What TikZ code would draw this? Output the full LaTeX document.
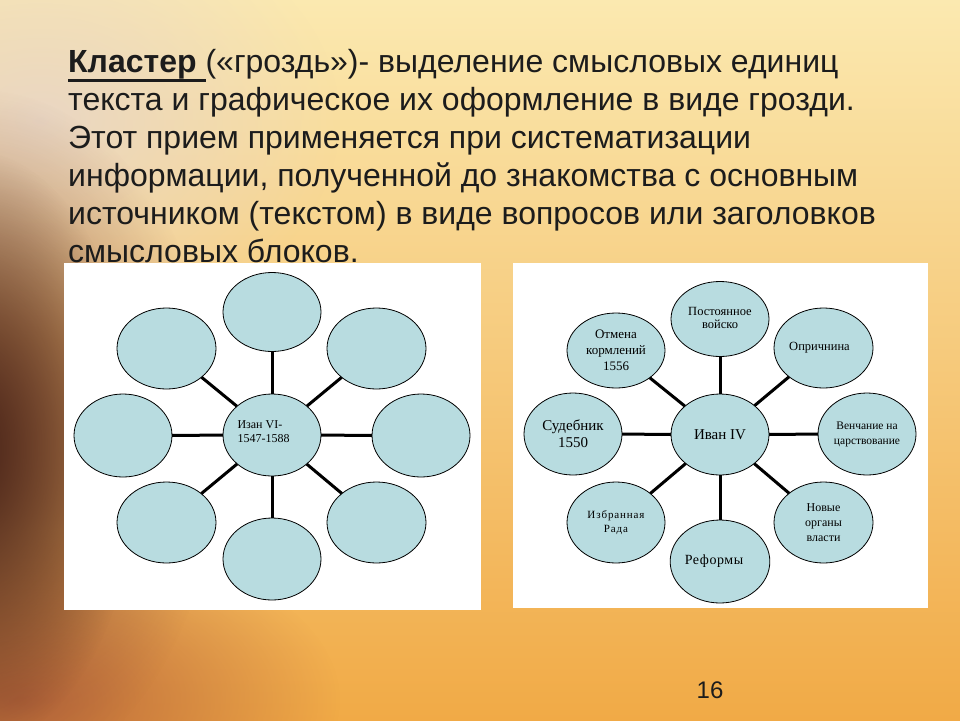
\documentclass[tikz,border=0pt]{standalone}
\usepackage{fontspec}
\setmainfont{Liberation Sans}
\newfontfamily\serifru{Liberation Serif}
\usetikzlibrary{shapes.geometric,fadings}

\definecolor{bubfill}{RGB}{184,220,224}
\definecolor{txt}{RGB}{28,28,28}
\definecolor{bgtop}{RGB}{251,233,176}
\definecolor{bgbot}{RGB}{241,170,70}
\definecolor{darkbrown}{RGB}{72,36,24}
\definecolor{midbrown}{RGB}{140,80,55}
\definecolor{redbrown}{RGB}{175,90,55}
\definecolor{paleleft}{RGB}{232,214,200}

\newcommand\thickul[1]{\leavevmode\vtop{\hbox{#1}\kern0.8pt\hrule height 2.4pt}}

\tikzfading[name=radfade, inner color=transparent!0, outer color=transparent!100]

\tikzset{
  bub/.style={ellipse, draw=black, line width=0.8pt, fill=bubfill, inner sep=0pt, outer sep=0pt,
    align=center, text=black, font=\serifru\fontsize{13}{15}\selectfont},
  conn/.style={line width=3pt, black},
  ttl/.style={anchor=base west, inner sep=0pt, text=txt, font=\fontsize{32}{38}\selectfont},
  panel/.style={fill=white}
}

\begin{document}
\begin{tikzpicture}[x=1pt,y=-1pt]
\useasboundingbox (0,0) rectangle (960,720);
% background
\shade[top color=bgtop, bottom color=bgbot] (0,0) rectangle (960,720);
\fill[paleleft, path fading=radfade, opacity=0.9] (40,120) ellipse [x radius=300, y radius=220];
\fill[redbrown, path fading=radfade, opacity=0.85] (20,700) ellipse [x radius=320, y radius=170];
\fill[midbrown, path fading=radfade, opacity=0.9] (-20,440) ellipse [x radius=240, y radius=350];
\fill[darkbrown, path fading=radfade, opacity=1] (-30,450) ellipse [x radius=170, y radius=300];

% title text
\node[ttl] (t1) at (68,72) {\thickul{\textbf{Кластер}\ }(«гроздь»)- выделение смысловых единиц};
\node[ttl] (t2) at (68,110) {текста и графическое их оформление в виде грозди.};
\node[ttl] (t3) at (68,148) {Этот прием применяется при систематизации};
\node[ttl] (t4) at (68,186) {информации, полученной до знакомства с основным};
\node[ttl] (t5) at (68,224) {источником (текстом) в виде вопросов или заголовков};
\node[ttl] (t6) at (68,262) {смысловых блоков.};

% panels
\fill[panel] (64,263) rectangle (481,610);
\fill[panel] (513,263) rectangle (928,608);

% left cluster
\node[bub, minimum width=98pt, minimum height=82pt] (L0) at (272,435) {};
\node[anchor=center, inner sep=0pt, align=left, font=\serifru\fontsize{12}{14}\selectfont] (L0t) at (263.5,432) {Изан VI-\\1547-1588};
\node[bub, minimum width=98pt, minimum height=79pt] (L1) at (272,312) {};
\node[bub, minimum width=99pt, minimum height=81pt] (L2) at (166.5,348.5) {};
\node[bub, minimum width=99pt, minimum height=81pt] (L3) at (376.5,348.5) {};
\node[bub, minimum width=98pt, minimum height=83pt] (L4) at (123,435.5) {};
\node[bub, minimum width=98pt, minimum height=83pt] (L5) at (421,435.5) {};
\node[bub, minimum width=99pt, minimum height=81pt] (L6) at (166.5,522.5) {};
\node[bub, minimum width=99pt, minimum height=81pt] (L7) at (376.5,522.5) {};
\node[bub, minimum width=98pt, minimum height=82pt] (L8) at (272,559) {};
\foreach \i in {1,...,8} \draw[conn] (L0) -- (L\i);

% right cluster
\node[bub, minimum width=98pt, minimum height=81pt, font=\serifru\fontsize{15}{17}\selectfont] (R0) at (720,434.5) {Иван IV};
\node[bub, minimum width=98pt, minimum height=75pt, font=\serifru\fontsize{12.5}{15}\selectfont] (R1) at (720,319) {\raisebox{7pt}{\begin{tabular}{@{}c@{}}Постоянное\\[-2pt]войско\end{tabular}}};
\node[bub, minimum width=98pt, minimum height=75pt, font=\serifru\fontsize{13}{16}\selectfont] (R2) at (616,350.5) {Отмена\\кормлений\\1556};
\node[bub, minimum width=99pt, minimum height=80pt, font=\serifru\fontsize{12.5}{15}\selectfont] (R3) at (823.5,348) {Опричнина\hspace*{8pt}};
\node[bub, minimum width=98pt, minimum height=82pt, font=\serifru\fontsize{15}{17}\selectfont] (R4) at (573,434) {Судебник\\1550};
\node[bub, minimum width=98pt, minimum height=82pt, font=\serifru\fontsize{11.5}{15}\selectfont] (R5) at (867,434) {Венчание на\\царствование};
\node[bub, minimum width=98pt, minimum height=81pt, font=\serifru\fontsize{11}{14}\selectfont\addfontfeatures{LetterSpace=8}] (R6) at (616,522.5) {Избранная\\Рада};
\node[bub, minimum width=99pt, minimum height=81pt, font=\serifru\fontsize{12}{15}\selectfont] (R7) at (823.5,522.5) {Новые\\органы\\власти};
\node[bub, minimum width=98pt, minimum height=83pt, font=\serifru\fontsize{14}{17}\selectfont\addfontfeatures{LetterSpace=4}] (R8) at (720,561.5) {\raisebox{4pt}{Реформы}\hspace*{12pt}};
\foreach \i in {1,...,8} \draw[conn] (R0) -- (R\i);

% page number
\node[inner sep=0pt, text=txt, font=\fontsize{24}{28}\selectfont] (pg) at (710,690) {16};
\end{tikzpicture}
\end{document}
